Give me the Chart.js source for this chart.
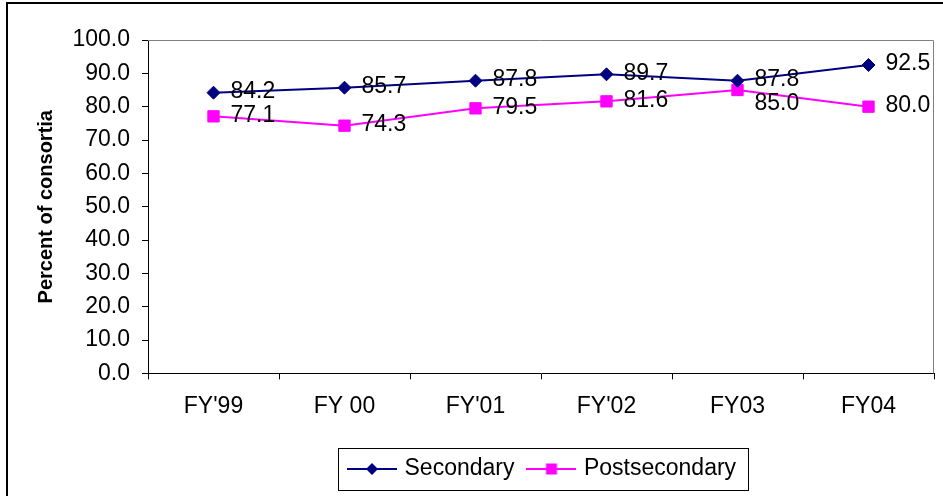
<!DOCTYPE html>
<html>
<head>
<meta charset="utf-8">
<script src="https://cdn.jsdelivr.net/npm/chart.js@4/dist/chart.umd.min.js"></script>
<style>
  html, body { margin: 0; padding: 0; background: #fff; }
  #wrap { width: 943px; height: 496px; position: relative; }
</style>
</head>
<body>
<div id="wrap"><canvas id="chart"></canvas></div>
<script>
const categories = ["FY'99", "FY 00", "FY'01", "FY'02", "FY03", "FY04"];
const secondary = [84.2, 85.7, 87.8, 89.7, 87.8, 92.5];
const postsecondary = [77.1, 74.3, 79.5, 81.6, 85.0, 80.0];
const yMin = 0;
const yMax = 100;
const yStep = 10;

const FONT = '"Liberation Sans", Arial, sans-serif';
const TEXT_SIZE = 23;

// little line + marker picture used as the legend symbol
function legendSymbol(color, shape) {
    const c = document.createElement('canvas');
    c.width = 50;
    c.height = 20;
    const g = c.getContext('2d');
    g.strokeStyle = color;
    g.lineWidth = 2;
    g.beginPath();
    g.moveTo(0, 10);
    g.lineTo(50, 10);
    g.stroke();
    g.fillStyle = color;
    g.beginPath();
    if (shape === 'diamond') {
        g.moveTo(25, 4); g.lineTo(31, 10); g.lineTo(25, 16); g.lineTo(19, 10);
    } else {
        g.rect(19.5, 4.5, 11, 11);
    }
    g.closePath();
    g.fill();
    return c;
}

const valueLabels = {
    id: 'valueLabels',
    afterDatasetsDraw(chart) {
        const ctx = chart.ctx;
        ctx.save();
        ctx.font = TEXT_SIZE + 'px ' + FONT;
        ctx.fillStyle = '#000';
        ctx.textBaseline = 'middle';
        ctx.textAlign = 'left';
        const used = []; // label y per category, to push overlapping ones down
        chart.data.datasets.forEach((ds, i) => {
            chart.getDatasetMeta(i).data.forEach((pt, j) => {
                let y = pt.y - 1;
                if (used[j] !== undefined && Math.abs(y - used[j]) < 22) {
                    y = used[j] + 24;
                }
                used[j] = y;
                ctx.fillText(ds.data[j].toFixed(1), pt.x + 17, y);
            });
        });
        ctx.restore();
    }
};

const frame = {
    id: 'frame',
    afterLayout(chart) {
        // move the legend under the plot like the excel one
        const lg = chart.legend;
        const pad = lg.options.labels.padding;
        const start = (lg.left + pad + lg.right - lg.lineWidths[0]) / 2;
        const dx = 351 - start;
        lg.left += dx;
        lg.right += dx;
        const dy = (469 - TEXT_SIZE / 2 - pad) - lg.top;
        lg.top += dy;
        lg.bottom += dy;
    },
    beforeDatasetsDraw(chart) {
        const { ctx, chartArea: a } = chart;
        ctx.save();
        ctx.strokeStyle = '#808080';
        ctx.lineWidth = 1;
        ctx.beginPath();
        ctx.moveTo(a.left, a.top + 0.5);
        ctx.lineTo(a.right - 0.5, a.top + 0.5);
        ctx.lineTo(a.right - 0.5, a.bottom);
        ctx.stroke();
        ctx.restore();
    },
    afterDraw(chart) {
        const ctx = chart.ctx;
        const lg = chart.legend;
        const pad = lg.options.labels.padding;
        const start = (lg.left + pad + lg.right - lg.lineWidths[0]) / 2;
        const end = start + lg.lineWidths[0] - pad;
        const cy = lg.top + pad + TEXT_SIZE / 2;
        ctx.save();
        ctx.strokeStyle = '#000';
        ctx.lineWidth = 1;
        ctx.strokeRect(Math.round(start - 13) + 0.5, Math.round(cy - 21) + 0.5, Math.round(end - start + 25), 42);
        // outer chart border
        ctx.lineWidth = 2;
        ctx.strokeRect(7, 3, 1000, 1000);
        ctx.restore();
    }
};

new Chart(document.getElementById('chart'), {
    type: 'line',
    data: {
        labels: categories,
        datasets: [
            {
                label: 'Secondary',
                data: secondary,
                borderColor: '#000080',
                backgroundColor: '#000080',
                borderWidth: 2,
                pointStyle: 'rectRot',
                pointRadius: 6.5,
                pointBorderWidth: 1,
                fill: false,
                tension: 0
            },
            {
                label: 'Postsecondary',
                data: postsecondary,
                borderColor: '#FF00FF',
                backgroundColor: '#FF00FF',
                borderWidth: 2,
                pointStyle: 'rect',
                pointRadius: 8,
                pointBorderWidth: 1,
                fill: false,
                tension: 0
            }
        ]
    },
    options: {
        responsive: true,
        maintainAspectRatio: false,
        animation: false,
        layout: { padding: { left: 0, top: 40, right: 3, bottom: 14 } },
        scales: {
            x: {
                offset: true,
                grid: { offset: true, drawOnChartArea: false, drawTicks: true, tickLength: 6, color: '#000' },
                border: { color: '#000', width: 1 },
                ticks: { color: '#000', font: { size: TEXT_SIZE, family: FONT }, padding: 13, maxRotation: 0, autoSkip: false }
            },
            y: {
                min: yMin,
                max: yMax,
                grid: { drawOnChartArea: false, drawTicks: true, tickLength: 6, color: '#000' },
                border: { color: '#000', width: 1 },
                ticks: {
                    stepSize: yStep,
                    color: '#000',
                    font: { size: TEXT_SIZE, family: FONT },
                    padding: 12,
                    callback: v => v.toFixed(1)
                },
                title: {
                    display: true,
                    text: 'Percent of consortia',
                    color: '#000',
                    font: { size: 20, weight: 'bold', family: FONT },
                    padding: { top: 34, bottom: 0 }
                },
                afterFit(scale) { scale.width = 148; }
            }
        },
        plugins: {
            legend: {
                position: 'bottom',
                labels: {
                    color: '#000',
                    font: { size: TEXT_SIZE, family: FONT },
                    usePointStyle: true,
                    pointStyleWidth: 42,
                    padding: 16,
                    generateLabels(chart) {
                        return chart.data.datasets.map((ds, i) => ({
                            text: ds.label,
                            pointStyle: legendSymbol(ds.borderColor, i === 0 ? 'diamond' : 'square'),
                            fillStyle: ds.borderColor,
                            strokeStyle: ds.borderColor,
                            lineWidth: 0,
                            hidden: false,
                            datasetIndex: i
                        }));
                    }
                }
            },
            tooltip: { enabled: false }
        }
    },
    plugins: [valueLabels, frame]
});
</script>
</body>
</html>
